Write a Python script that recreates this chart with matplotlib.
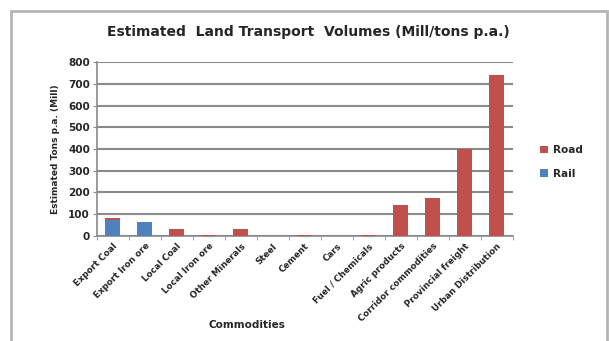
import numpy as np
import matplotlib
matplotlib.use("Agg")
import matplotlib.pyplot as plt
from matplotlib.patches import Rectangle

# Data (Mill tons p.a.)
commodities = ["Export Coal", "Export Iron ore", "Local Coal", "Local Iron ore",
               "Other Minerals", "Steel", "Cement", "Cars", "Fuel / Chemicals",
               "Agric products", "Corridor commodities", "Provincial freight",
               "Urban Distribution"]
rail = [74, 62, 0, 0, 0, 0, 0, 0, 0, 0, 0, 0, 0]
road = [8, 2, 30, 5, 30, 2, 3, 1, 3, 142, 176, 400, 740]
yticks = [0, 100, 200, 300, 400, 500, 600, 700, 800]

road_color = "#c0504d"
rail_color = "#4f81bd"
grid_color = "#8a8a8a"
text_color = "#262626"

fig = plt.figure(figsize=(6.09, 3.41), dpi=100)
ax = fig.add_axes([0.159, 0.308, 0.683, 0.510])

x = np.arange(len(commodities))
ax.bar(x, rail, width=0.47, color=rail_color, label="Rail", zorder=3)
ax.bar(x, road, width=0.47, bottom=rail, color=road_color, label="Road", zorder=3)

ax.set_xlim(-0.5, len(commodities) - 0.5)
ax.set_ylim(0, 800)
ax.set_yticks(yticks)
ax.set_yticklabels([str(v) for v in yticks], fontsize=7.5, fontweight="bold",
                   color=text_color)
ax.yaxis.grid(True, color=grid_color, linewidth=1.5, zorder=0)
ax.set_axisbelow(True)

# category labels centred under bars, tick marks between categories
ax.set_xticks(x)
ax.set_xticklabels(commodities, rotation=45, ha="right", rotation_mode="anchor",
                   fontsize=6.3, fontweight="bold", color=text_color)
ax.tick_params(axis="x", length=0, pad=4)
ax.set_xticks(np.arange(-0.5, len(commodities)), minor=True)
ax.tick_params(axis="x", which="minor", length=3, color=grid_color, direction="out")
ax.tick_params(axis="y", length=3, color=grid_color, direction="out", pad=2)

for side in ["top", "right"]:
    ax.spines[side].set_visible(False)
for side in ["left", "bottom"]:
    ax.spines[side].set_color(grid_color)
    ax.spines[side].set_linewidth(1.2)

ax.set_ylabel("Estimated Tons p.a. (Mill)", fontsize=6.5, fontweight="bold",
              color=text_color, labelpad=6)
fig.text(0.405, 0.047, "Commodities", ha="center", va="center", fontsize=7.5,
         fontweight="bold", color=text_color)
fig.text(0.507, 0.905, "Estimated  Land Transport  Volumes (Mill/tons p.a.)",
         ha="center", va="center", fontsize=10, fontweight="bold", color=text_color)

handles, labels = ax.get_legend_handles_labels()
fig.legend(handles[::-1], labels[::-1], loc="center left",
           bbox_to_anchor=(0.872, 0.525), frameon=False,
           handlelength=0.7, handleheight=0.7, handletextpad=0.5, labelspacing=1.3,
           prop={"weight": "bold", "size": 7.5})
for t in fig.legends[0].get_texts():
    t.set_color(text_color)

# chart frame
fig.patches.append(Rectangle((11 / 609, -0.05), (607 - 11) / 609, 1.05 - 11 / 341,
                             transform=fig.transFigure, fill=False,
                             edgecolor="#b5b5b5", linewidth=2))

fig.savefig("out.png", dpi=100)
